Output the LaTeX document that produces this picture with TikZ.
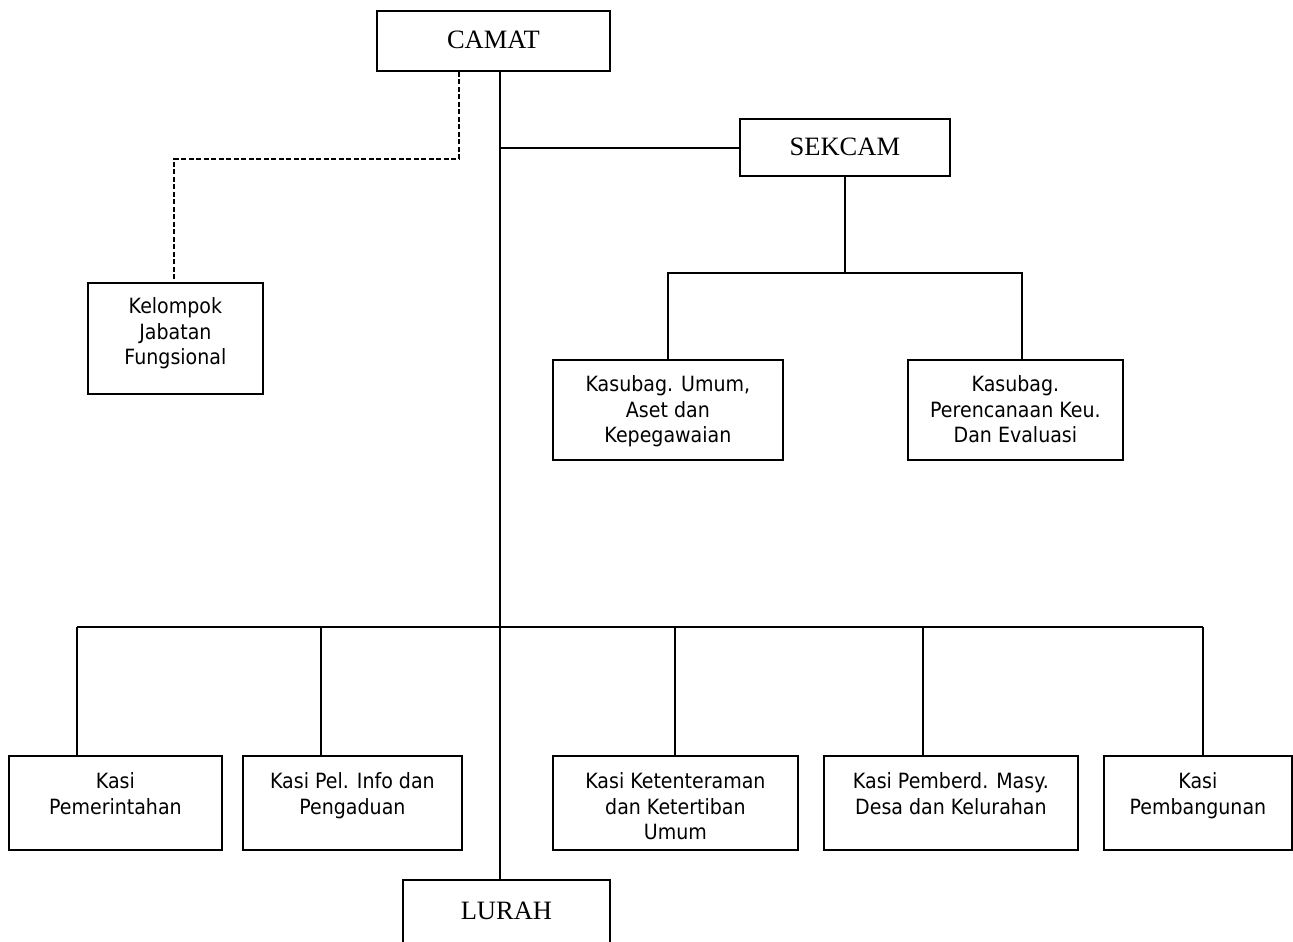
\documentclass[tikz,border=0pt]{standalone}
\usepackage{fontspec}
\setmainfont{DejaVu Sans}[FakeStretch=0.905]
\newfontfamily\timesfont{Liberation Serif}
% #1 width, #2 height, #3 first baseline from top, #4 text
\newcommand{\tbx}[4]{\parbox[c][#2][t]{#1}{\centering\vspace*{\dimexpr #3-20pt\relax}\rule{0pt}{20pt}#4\par}}
\begin{document}
\begin{tikzpicture}[x=1pt,y=-1pt,line width=1.8pt,
  box/.style={draw,inner sep=0pt,anchor=north west,font=\fontsize{21}{25.5}\selectfont},
  headbox/.style={draw,inner sep=0pt,anchor=north west,font=\timesfont\fontsize{26.5}{30}\selectfont},
  dashline/.style={dash pattern=on 5pt off 2.5pt}]
\useasboundingbox (0,0) rectangle (1293,942);

% top level
\node[headbox] (camat)  at (376,10)  {\tbx{233pt}{60pt}{38pt}{CAMAT}};
\node[headbox] (sekcam) at (739,118) {\tbx{210pt}{57pt}{37pt}{SEKCAM}};
\node[headbox] (lurah)  at (402,879) {\tbx{207pt}{80pt}{40pt}{LURAH}};

\node[box] (kjf)   at (87,282)  {\tbx{175pt}{111pt}{31pt}{Kelompok\\Jabatan\\Fungsional}};
\node[box] (kumum) at (552,359) {\tbx{230pt}{100pt}{31.7pt}{Kasubag. Umum,\\Aset dan\\Kepegawaian}};
\node[box] (kren)  at (907,359) {\tbx{215pt}{100pt}{31.7pt}{Kasubag.\\Perencanaan Keu.\\Dan Evaluasi}};

\node[box] (kpem)  at (8,755)    {\tbx{213pt}{94pt}{33pt}{Kasi\\Pemerintahan}};
\node[box] (kpel)  at (242,755)  {\tbx{219pt}{94pt}{33pt}{Kasi Pel. Info dan\\Pengaduan}};
\node[box] (kket)  at (552,755)  {\tbx{245pt}{94pt}{33pt}{Kasi Ketenteraman\\dan Ketertiban\\Umum}};
\node[box] (kpmd)  at (823,755)  {\tbx{254pt}{94pt}{33pt}{Kasi Pemberd. Masy.\\Desa dan Kelurahan}};
\node[box] (kbang) at (1103,755) {\tbx{188pt}{94pt}{33pt}{Kasi\\Pembangunan}};

% junction points
\coordinate (jS) at (500,148);
\coordinate (kL) at (668,273);
\coordinate (kR) at (1022,273);
\coordinate (d1) at (459,159);
\coordinate (d2) at (174,159);
\coordinate (b1) at (77,627);
\coordinate (b2) at (321,627);
\coordinate (b3) at (675,627);
\coordinate (b4) at (923,627);
\coordinate (b5) at (1203,627);

% trunk
\draw (camat.south -| jS) -- (lurah.north -| jS);
% to SEKCAM
\draw (jS) -- (jS -| sekcam.west);
% SEKCAM to Kasubag
\draw (sekcam.south) -- (sekcam.south |- kL);
\draw (kumum.north -| kL) -- (kL) -- (kR) -- (kren.north -| kR);
% dashed to fungsional
\draw[dashline] (camat.south -| d1) -- (d1) -- (d2) -- (kjf.north -| d2);
% bottom bus
\draw (b1) -- (b5);
\draw (b1) -- (kpem.north -| b1);
\draw (b2) -- (kpel.north -| b2);
\draw (b3) -- (kket.north -| b3);
\draw (b4) -- (kpmd.north -| b4);
\draw (b5) -- (kbang.north -| b5);
\end{tikzpicture}
\end{document}
